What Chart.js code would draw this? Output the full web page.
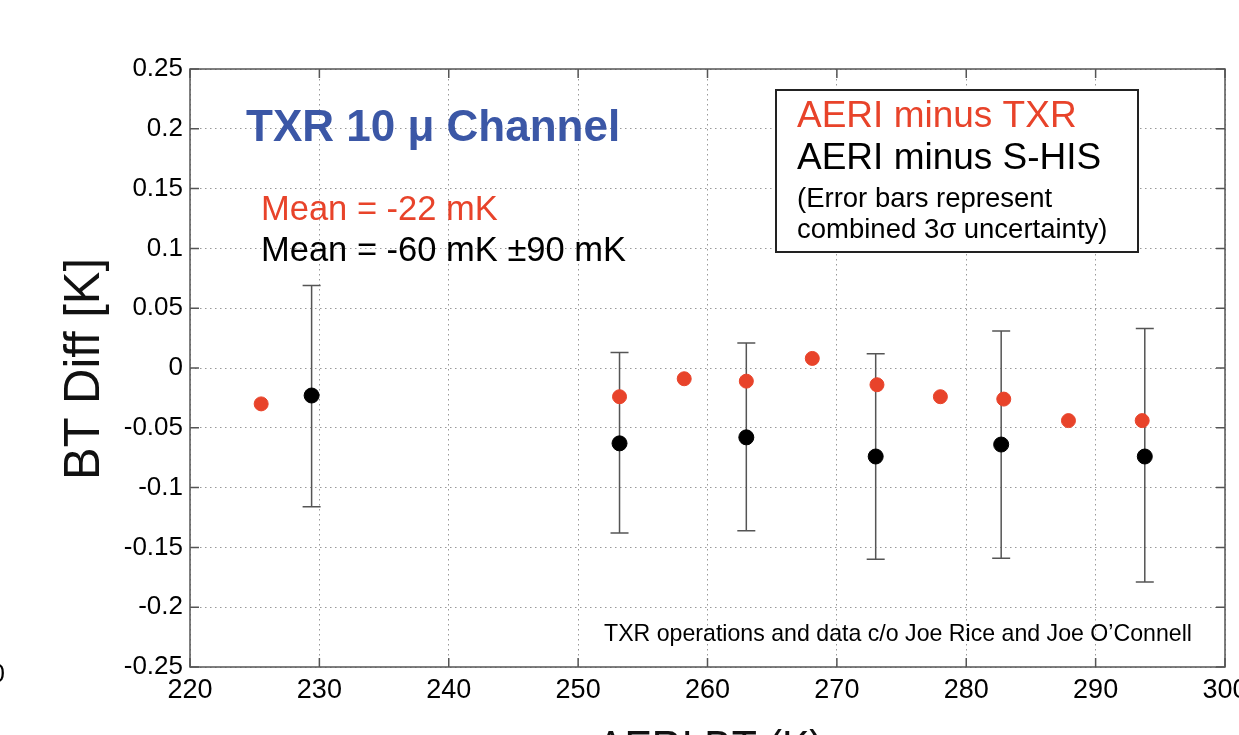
<!DOCTYPE html>
<html>
<head>
<meta charset="utf-8">
<script src="https://cdn.jsdelivr.net/npm/chart.js@4.4.0/dist/chart.umd.min.js"></script>
<style>
  body { margin: 0; background: #fff; }
  canvas { display: block; }
</style>
</head>
<body>
<canvas id="myChart" width="1239" height="735"></canvas>
<script>
// AERI minus TXR
const txrX = [225.5, 253.2, 258.2, 263.0, 268.1, 273.1, 278.0, 282.9, 287.9, 293.6];
const txrDiff = [-0.030, -0.024, -0.009, -0.011, 0.008, -0.014, -0.024, -0.026, -0.044, -0.044];
// AERI minus S-HIS, with 3 sigma error bars
const shisX = [229.4, 253.2, 263.0, 273.0, 282.7, 293.8];
const shisDiff = [-0.023, -0.063, -0.058, -0.074, -0.064, -0.074];
const shisLow = [-0.116, -0.138, -0.136, -0.160, -0.159, -0.179];
const shisHigh = [0.069, 0.013, 0.021, 0.012, 0.031, 0.033];

const xTicks = [220, 230, 240, 250, 260, 270, 280, 290, 300];
const yTicks = [-0.25, -0.2, -0.15, -0.1, -0.05, 0, 0.05, 0.1, 0.15, 0.2, 0.25];

const FONT = "'Liberation Sans', Arial, sans-serif";

const errorBars = {
    id: 'errorBars',
    beforeDatasetsDraw(chart) {
        const ctx = chart.ctx;
        const xs = chart.scales.x, ys = chart.scales.y;
        ctx.save();
        ctx.strokeStyle = '#555';
        ctx.lineWidth = 1.5;
        shisX.forEach((x, i) => {
            const px = xs.getPixelForValue(x);
            const top = ys.getPixelForValue(shisHigh[i]);
            const bot = ys.getPixelForValue(shisLow[i]);
            ctx.beginPath();
            ctx.moveTo(px, top); ctx.lineTo(px, bot);
            ctx.moveTo(px - 9, top); ctx.lineTo(px + 9, top);
            ctx.moveTo(px - 9, bot); ctx.lineTo(px + 9, bot);
            ctx.stroke();
        });
        ctx.restore();
    }
};

const decorations = {
    id: 'decorations',
    afterDraw(chart) {
        const ctx = chart.ctx;
        const a = chart.chartArea;
        const xs = chart.scales.x, ys = chart.scales.y;
        ctx.save();
        // frame with inward ticks on all sides
        ctx.strokeStyle = '#555';
        ctx.lineWidth = 1.5;
        ctx.strokeRect(a.left, a.top, a.right - a.left, a.bottom - a.top);
        ctx.beginPath();
        xTicks.forEach(v => {
            const px = xs.getPixelForValue(v);
            ctx.moveTo(px, a.bottom); ctx.lineTo(px, a.bottom - 9);
            ctx.moveTo(px, a.top); ctx.lineTo(px, a.top + 9);
        });
        yTicks.forEach(v => {
            const py = ys.getPixelForValue(v);
            ctx.moveTo(a.left, py); ctx.lineTo(a.left + 9, py);
            ctx.moveTo(a.right, py); ctx.lineTo(a.right - 9, py);
        });
        ctx.stroke();

        // axis titles
        ctx.fillStyle = '#111';
        ctx.textAlign = 'center';
        ctx.textBaseline = 'alphabetic';
        ctx.font = '50px ' + FONT;
        ctx.save();
        ctx.translate(99, 369);
        ctx.rotate(-Math.PI / 2);
        ctx.fillText('BT Diff [K]', 0, 0, 222);
        ctx.restore();
        ctx.font = '46px ' + FONT;
        ctx.fillText('AERI BT (K)', 710, 763, 226);

        // title and means
        ctx.textAlign = 'left';
        ctx.font = 'bold 44px ' + FONT;
        ctx.fillStyle = '#3b57a6';
        ctx.fillText('TXR 10 \u03bc Channel', 246, 141, 376);
        ctx.font = '34.5px ' + FONT;
        ctx.fillStyle = '#e8432a';
        ctx.fillText('Mean = -22 mK', 261, 220);
        ctx.fillStyle = '#000';
        ctx.fillText('Mean = -60 mK \u00b190 mK', 261, 261);

        // legend box
        ctx.fillStyle = '#fff';
        ctx.fillRect(776, 90, 362, 162);
        ctx.strokeStyle = '#222';
        ctx.lineWidth = 2;
        ctx.strokeRect(776, 90, 362, 162);
        ctx.font = '37px ' + FONT;
        ctx.fillStyle = '#e8432a';
        ctx.fillText('AERI minus TXR', 797, 127);
        ctx.fillStyle = '#000';
        ctx.fillText('AERI minus S-HIS', 797, 169);
        ctx.font = '27.5px ' + FONT;
        ctx.fillText('(Error bars represent', 797, 207);
        ctx.fillText('combined 3\u03c3 uncertainty)', 797, 238, 318);

        // credit
        ctx.font = '23.2px ' + FONT;
        ctx.fillText('TXR operations and data c/o Joe Rice and Joe O\u2019Connell', 604, 641, 588);

        // clipped fragment at the left edge
        ctx.textAlign = 'right';
        ctx.font = '26px ' + FONT;
        ctx.fillText('0', 5, 682);
        ctx.restore();
    }
};

const ctx = document.getElementById('myChart').getContext('2d');
new Chart(ctx, {
    type: 'scatter',
    data: {
        datasets: [{
            label: 'AERI minus TXR',
            data: txrX.map((x, i) => ({ x: x, y: txrDiff[i] })),
            backgroundColor: '#e8432a',
            borderColor: '#e8432a',
            pointRadius: 7,
            pointHoverRadius: 7
        }, {
            label: 'AERI minus S-HIS',
            data: shisX.map((x, i) => ({ x: x, y: shisDiff[i] })),
            backgroundColor: '#000',
            borderColor: '#000',
            pointRadius: 7.5,
            pointHoverRadius: 7.5
        }]
    },
    options: {
        responsive: false,
        animation: false,
        layout: { padding: { left: 0, right: 14, top: 69, bottom: 0 } },
        plugins: {
            legend: { display: false },
            tooltip: { enabled: false }
        },
        scales: {
            x: {
                type: 'linear',
                min: 220,
                max: 300,
                afterBuildTicks: scale => { scale.ticks = xTicks.map(v => ({ value: v })); },
                afterFit: scale => {
                    scale.height = 68;
                    scale.paddingLeft = 0;
                    scale.paddingRight = 0;
                },
                grid: { color: '#999', lineWidth: 1, drawTicks: false },
                border: { display: false, dash: [1.5, 3.5] },
                ticks: {
                    color: '#000',
                    font: { size: 27, family: FONT },
                    padding: 7,
                    maxRotation: 0,
                    callback: v => String(v)
                }
            },
            y: {
                type: 'linear',
                min: -0.25,
                max: 0.25,
                afterBuildTicks: scale => { scale.ticks = yTicks.map(v => ({ value: v })); },
                afterFit: scale => {
                    scale.width = 190;
                    scale.paddingTop = 0;
                    scale.paddingBottom = 0;
                },
                grid: { color: '#999', lineWidth: 1, drawTicks: false },
                border: { display: false, dash: [1.5, 3.5] },
                ticks: {
                    color: '#000',
                    font: { size: 26, family: FONT },
                    padding: 7,
                    callback: v => String(parseFloat(v.toFixed(2)))
                }
            }
        }
    },
    plugins: [errorBars, decorations]
});
</script>
</body>
</html>
